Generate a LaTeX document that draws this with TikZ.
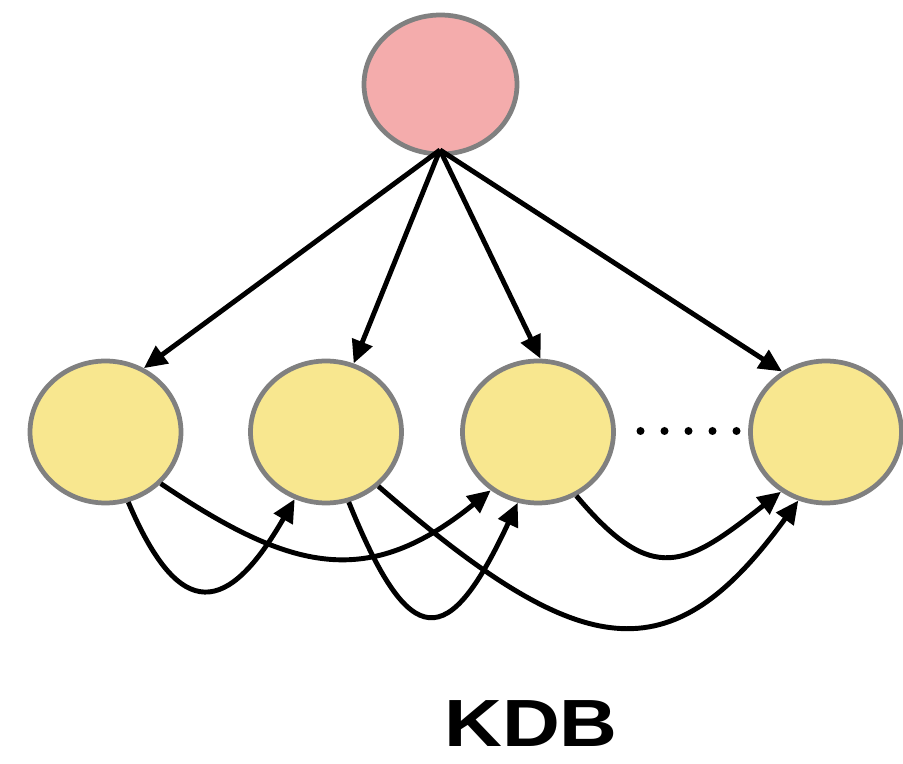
\documentclass[tikz,border=0pt]{standalone}
\usepackage{fontspec}
\setmainfont{Liberation Sans}
\usepackage{graphicx}
\usetikzlibrary{arrows.meta,shapes.geometric}
\definecolor{rootfill}{HTML}{F4ACAC}
\definecolor{childfill}{HTML}{F8E78F}
\definecolor{rim}{HTML}{808080}
\tikzset{
  rootnode/.style={ellipse, draw=rim, fill=rootfill, line width=2.7pt,
    minimum width=3.06cm, minimum height=2.78cm, inner sep=0pt},
  childnode/.style={ellipse, draw=rim, fill=childfill, line width=2.7pt,
    minimum width=3.02cm, minimum height=2.84cm, inner sep=0pt},
  link/.style={line width=2.8pt, -{Triangle[length=0.46cm,width=0.42cm]}},
  gapdot/.style={fill=black},
}
\begin{document}
\begin{tikzpicture}[x=0.02cm, y=0.02cm]
  \useasboundingbox (0,0) rectangle (903,764);

  % class node and attribute nodes
  \node[rootnode]  (root) at (440.5,679.5) {};
  \node[childnode] (e1)   at (105.5,332) {};
  \node[childnode] (e2)   at (326,332)   {};
  \node[childnode] (e3)   at (538,332)   {};
  \node[childnode] (e4)   at (826,332)   {};
  \coordinate (apex) at (440,614);

  % ellipsis between the third and last attribute
  \foreach \x in {640.5,664.5,688.5,712.5,736.5}
    \fill[gapdot] (\x,333) circle (4);

  % arcs from the class node
  \draw[link] (apex) -- (e1.59);
  \draw[link] (apex) -- (e2.68.6);
  \draw[link] (apex) -- (e3.88);
  \draw[link] (apex) -- (e4.126);

  % arcs between attributes
  \draw[link] (e1.288) to[out=-67,in=240,distance=2.66cm] (e2.245);
  \draw[link] (e1.317) to[out=-34,in=219,distance=3.16cm] (e3.231);
  \draw[link] (e2.288) to[out=-68,in=245,distance=3.28cm] (e3.254);
  \draw[link] (e2.314) to[out=-41,in=234,out distance=5.4cm,in distance=4.36cm] (e4.248);
  \draw[link] (e3.301) to[out=-50,in=218,distance=2.4cm] (e4.233);

  % caption
  \node[anchor=base, inner sep=0pt] (caption) at (531,17)
    {\fontsize{38}{40}\selectfont\bfseries\scalebox{1.2}[1]{KDB}};
\end{tikzpicture}
\end{document}
